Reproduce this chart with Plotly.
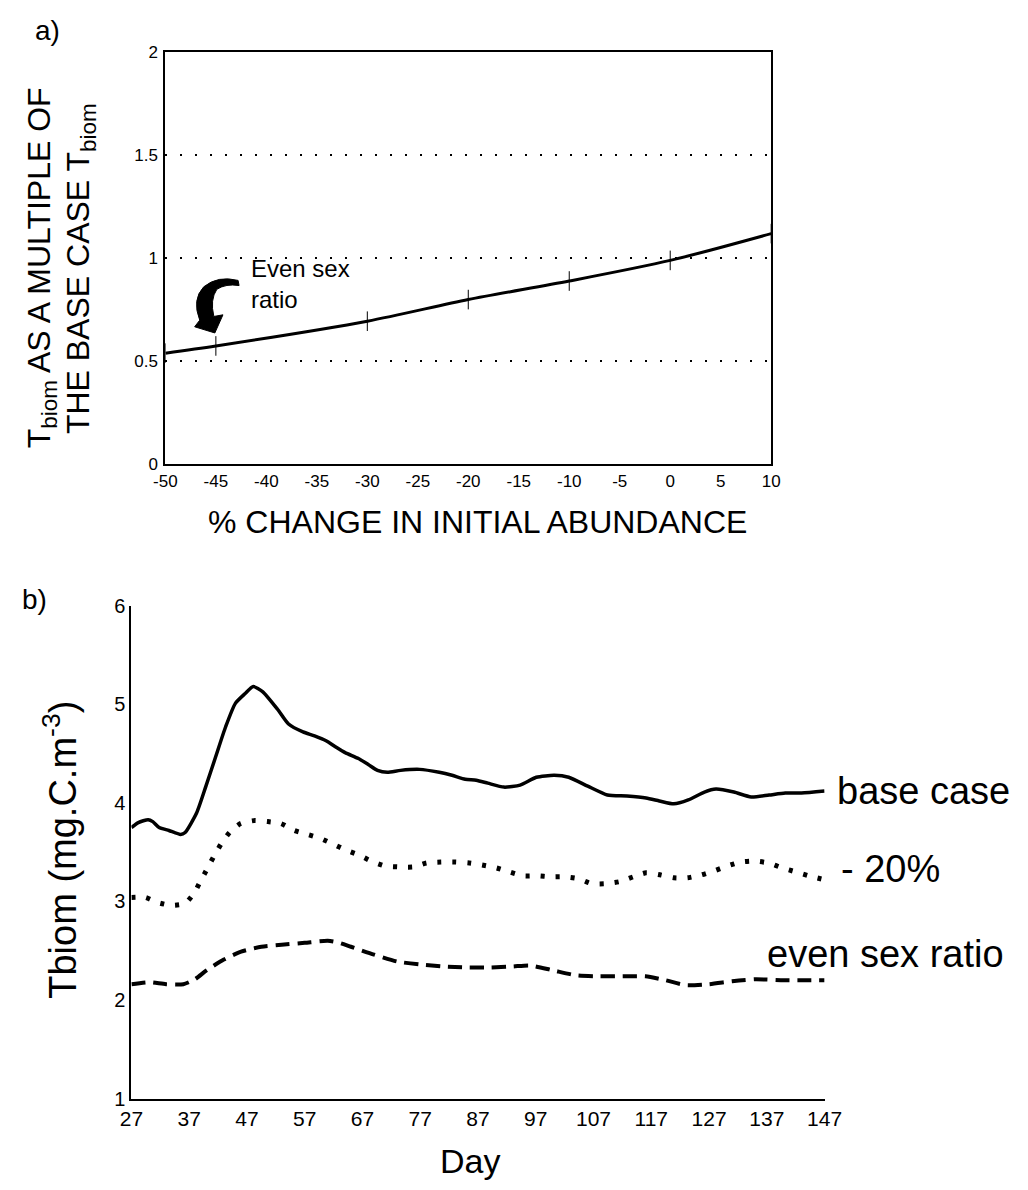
import plotly.graph_objects as go

# ---------- data: panel a ----------
pct_change = [-50, -45, -30, -20, -10, 0, 10]
tbiom_ratio = [0.54, 0.575, 0.695, 0.80, 0.89, 0.99, 1.12]
a_xticks = [-50, -45, -40, -35, -30, -25, -20, -15, -10, -5, 0, 5, 10]
a_xticklabels = ["-50", "-45", "-40", "-35", "-30", "-25", "-20", "-15", "-10", "-5",
                 "0", "5", "10"]
a_yticks = [0, 0.5, 1, 1.5, 2]
a_yticklabels = ["0", "0.5", "1", "1.5", "2"]

# ---------- data: panel b ----------
base_day = [27, 28.2, 29.9, 30.7, 31.8, 33.5, 35.5, 36.3, 38.3, 39.9, 41.6, 43.3, 45.0,
            46.7, 48.1, 49.7, 52.3, 54.2, 56.7, 58.7, 60.7, 62.3, 64.0, 66.3, 68.0, 69.6,
            71.3, 73.6, 76.9, 80.3, 82.5, 84.8, 86.7, 88.7, 91.5, 94.3, 97.1, 100.2, 102.7,
            106.0, 109.4, 112.8, 116.1, 118.4, 120.9, 123.4, 126.2, 128.2, 131.3, 134.3,
            137.4, 140.2, 143.0, 147]
base_val = [3.75, 3.80, 3.83, 3.81, 3.75, 3.72, 3.68, 3.70, 3.90, 4.17, 4.47, 4.77, 5.01,
            5.11, 5.18, 5.13, 4.95, 4.80, 4.72, 4.68, 4.63, 4.57, 4.51, 4.45, 4.39, 4.33,
            4.31, 4.33, 4.34, 4.31, 4.28, 4.24, 4.23, 4.20, 4.16, 4.18, 4.26, 4.28, 4.26,
            4.17, 4.08, 4.07, 4.05, 4.02, 3.99, 4.03, 4.11, 4.14, 4.11, 4.06,
            4.08, 4.10, 4.10, 4.12]

minus20_day = [27, 29.4, 31.5, 33.9, 36.3, 37.9, 39.0, 40.2, 41.3, 42.6, 44.0, 45.9, 48.2,
               50.6, 52.9, 55.2, 57.5, 59.7, 62.0, 64.2, 66.4, 68.5, 70.9, 73.3, 75.8, 78.1,
               80.6, 83.1, 85.5, 87.7, 90.2, 92.4, 94.8, 97.2, 99.6, 101.9, 104.4, 106.7,
               109.1, 111.5, 113.9, 116.1, 118.5, 120.9, 123.3, 125.7, 127.9, 130.2, 132.5,
               134.9, 137.3, 139.7, 142.0, 144.3, 147]
minus20_val = [3.04, 3.04, 2.99, 2.96, 2.98, 3.09, 3.21, 3.34, 3.46, 3.59, 3.70, 3.79, 3.82,
               3.81, 3.79, 3.72, 3.68, 3.64, 3.58, 3.52, 3.47, 3.41, 3.36, 3.35, 3.35, 3.39,
               3.40, 3.40, 3.39, 3.37, 3.34, 3.30, 3.26, 3.26, 3.25, 3.25, 3.23, 3.18,
               3.18, 3.20, 3.25, 3.29, 3.27, 3.24, 3.24, 3.27, 3.31, 3.36, 3.40,
               3.41, 3.39, 3.34, 3.30, 3.26, 3.22]

even_day = [27, 30, 33, 36, 38, 40, 43, 46, 49.5, 53, 57, 61, 63, 65, 69, 73, 77, 81, 85,
            89, 93, 96, 100, 104, 108, 112, 116, 119.5, 123, 127, 131, 135, 140, 147]
even_val = [2.16, 2.18, 2.16, 2.16, 2.21, 2.30, 2.41, 2.49, 2.54, 2.56, 2.58, 2.60, 2.58,
            2.54, 2.46, 2.39, 2.36, 2.34, 2.33, 2.33, 2.34, 2.35, 2.30, 2.25, 2.24, 2.24,
            2.24, 2.20, 2.15, 2.16, 2.19, 2.21, 2.20, 2.20]
b_xticks = [27, 37, 47, 57, 67, 77, 87, 97, 107, 117, 127, 137, 147]
b_yticks = [1, 2, 3, 4, 5, 6]

series_labels = ["base case", "- 20%", "even sex ratio"]
label_yvals = [4.12, 3.33, 2.47]

FONT = "Liberation Sans, Arial, Helvetica, sans-serif"
W, H = 1028, 1190

fig = go.Figure()

# panel a curve with small tick marks at computed points
fig.add_trace(go.Scatter(
    x=pct_change, y=tbiom_ratio, mode="lines+markers",
    line=dict(color="black", width=3, shape="spline", smoothing=0.8),
    marker=dict(symbol="line-ns", size=14, line=dict(color="black", width=1)),
    xaxis="x", yaxis="y", showlegend=False, hoverinfo="skip"))

# panel b curves
fig.add_trace(go.Scatter(
    x=base_day, y=base_val, mode="lines",
    line=dict(color="black", width=3.5, shape="spline", smoothing=0.6),
    xaxis="x2", yaxis="y2", showlegend=False))
fig.add_trace(go.Scatter(
    x=minus20_day, y=minus20_val, mode="lines",
    line=dict(color="black", width=5, dash="4px,11px", shape="spline", smoothing=0.6),
    xaxis="x2", yaxis="y2", showlegend=False))
fig.add_trace(go.Scatter(
    x=even_day, y=even_val, mode="lines",
    line=dict(color="black", width=4, dash="14px,8px", shape="spline", smoothing=0.6),
    xaxis="x2", yaxis="y2", showlegend=False))

ax_common = dict(showline=True, linecolor="black", linewidth=2, ticks="",
                 zeroline=False, color="black")

fig.update_layout(
    width=W, height=H, margin=dict(l=0, r=0, t=0, b=0),
    paper_bgcolor="white", plot_bgcolor="white",
    font=dict(family=FONT, color="black"),
    xaxis=dict(domain=[158 / W, 782 / W], range=[-50, 10], tickvals=a_xticks,
               ticktext=a_xticklabels, showgrid=False, mirror=True, anchor="y",
               tickfont=dict(size=17), **ax_common),
    yaxis=dict(domain=[1 - 462 / H, 1 - 42 / H], range=[0, 2], tickvals=a_yticks,
               ticktext=a_yticklabels, showgrid=True, gridcolor="black", gridwidth=1.5,
               griddash="2px,13px", mirror=True, anchor="x",
               tickfont=dict(size=17), ticklabelstandoff=2, **ax_common),
    xaxis2=dict(domain=[123 / W, 837 / W], range=[27, 147], tickvals=b_xticks,
                showgrid=False, anchor="y2", tickfont=dict(size=21), **ax_common),
    yaxis2=dict(domain=[1 - 1108 / H, 1 - 606 / H], range=[1, 6], tickvals=b_yticks,
                showgrid=False, anchor="x2", tickfont=dict(size=20), **ax_common),
)

ann = []
ann.append(dict(text="a)", x=22 / W, y=1 - 20 / H, xref="paper", yref="paper",
                xanchor="left", yanchor="middle", showarrow=False, font=dict(size=28)))
ann.append(dict(text="b)", x=8 / W, y=1 - 600 / H, xref="paper", yref="paper",
                xanchor="left", yanchor="middle", showarrow=False, font=dict(size=28)))
# panel a y title (two rotated lines)
ann.append(dict(text="T<sub>biom</sub> AS A MULTIPLE OF", x=30 / W, y=1 - 262 / H,
                xref="paper", yref="paper", textangle=-90, showarrow=False,
                xanchor="center", yanchor="middle", font=dict(size=32)))
ann.append(dict(text="THE BASE CASE T<sub>biom</sub>", x=70 / W, y=1 - 262 / H,
                xref="paper", yref="paper", textangle=-90, showarrow=False,
                xanchor="center", yanchor="middle", font=dict(size=32)))
# panel a x title
ann.append(dict(text="% CHANGE IN INITIAL ABUNDANCE", x=480 / W, y=1 - 521 / H,
                xref="paper", yref="paper", showarrow=False,
                xanchor="center", yanchor="middle", font=dict(size=32)))
# panel a annotation text
ann.append(dict(text="Even sex<br>ratio", x=-41.7, y=0.875, xref="x", yref="y",
                showarrow=False, xanchor="left", yanchor="middle", align="left",
                font=dict(size=24)))
# panel b titles
ann.append(dict(text="Tbiom (mg.C.m<sup>-3</sup>)", x=50 / W, y=1 - 855 / H,
                xref="paper", yref="paper", textangle=-90, showarrow=False,
                xanchor="center", yanchor="middle", font=dict(size=38)))
ann.append(dict(text="Day", x=472 / W, y=1 - 1172 / H, xref="paper", yref="paper",
                showarrow=False, xanchor="center", yanchor="middle", font=dict(size=34)))
# panel b series labels
label_x = [848, 852, 776]
for t, yv, px in zip(series_labels, label_yvals, label_x):
    ann.append(dict(text=t, x=px / W, y=yv, xref="paper", yref="y2", showarrow=False,
                    xanchor="left", yanchor="middle", font=dict(size=38)))
fig.update_layout(annotations=ann)

# curved arrow (decoration) in panel a data units
arrow_path = ("M -42.8,0.893 Q -44.8,0.918 -46.2,0.862 Q -47.4,0.80 -46.6,0.70 "
              "L -47.1,0.668 L -45.1,0.638 L -44.3,0.726 L -45.2,0.718 "
              "Q -45.6,0.80 -44.9,0.85 Q -44.0,0.878 -42.7,0.868 Z")
fig.add_shape(type="path", path=arrow_path, xref="x", yref="y",
              fillcolor="black", line=dict(color="black", width=1))

fig.write_html("out.html")
